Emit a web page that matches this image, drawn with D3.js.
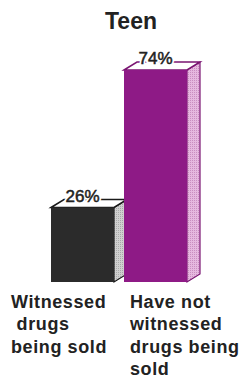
<!DOCTYPE html>
<html>
<head>
<meta charset="utf-8">
<script src="https://cdn.jsdelivr.net/npm/d3@7"></script>
<style>
  body { margin: 0; background: #fff; }
  text { font-family: "Liberation Sans", Arial, sans-serif; }
</style>
</head>
<body>
<div id="chart"></div>
<script>
var title = "Teen";
var categories = ["Witnessed drugs being sold", "Have not witnessed drugs being sold"];
var values = [26, 74];
var catLines = [["Witnessed", " drugs", "being sold"], ["Have not", "witnessed", "drugs being", "sold"]];

var width = 247, height = 378;
var baseY = 282, depthX = 13, depthY = 8;

var svg = d3.select("#chart").append("svg")
    .attr("width", width)
    .attr("height", height);

var x = d3.scaleBand().domain(categories).range([51, 197]).padding(0);
var y = d3.scaleLinear().domain([0, 100]).range([baseY, baseY - 286.5]);

var fronts = ["#2b2b2b", "#8e1a86"];
var sides = ["#cfcfcf", "#e6b8df"];
var strokes = ["#1a1a1a", "#7a1572"];

// textures
var defs = svg.append("defs");
[0, 1].forEach(function(i) {
  var p = defs.append("pattern").attr("id", "dots" + i)
      .attr("width", 2).attr("height", 2).attr("patternUnits", "userSpaceOnUse");
  p.append("rect").attr("width", 2).attr("height", 2).attr("fill", sides[i]);
  p.append("rect").attr("width", 1).attr("height", 1).attr("fill", i ? "#c98ec0" : "#a8a8a8");
});

var bar = svg.selectAll(".bar")
    .data(categories)
    .enter().append("g")
    .attr("class", "bar");

bar.each(function(d, i) {
  var g = d3.select(this);
  var x0 = x(d), w = x.bandwidth() - 10, top = y(values[i]);
  // side
  g.append("path")
      .attr("d", "M" + (x0 + w) + "," + top + "L" + (x0 + w + depthX) + "," + (top - depthY) +
          "L" + (x0 + w + depthX) + "," + (baseY - depthY) + "L" + (x0 + w) + "," + baseY + "Z")
      .attr("fill", "url(#dots" + i + ")")
      .attr("stroke", strokes[i]).attr("stroke-width", 1.2);
  // top
  g.append("path")
      .attr("d", "M" + x0 + "," + top + "L" + (x0 + depthX) + "," + (top - depthY) +
          "L" + (x0 + w + depthX) + "," + (top - depthY) + "L" + (x0 + w) + "," + top + "Z")
      .attr("fill", "#fff")
      .attr("stroke", strokes[i]).attr("stroke-width", 1.5);
  // front
  g.append("rect")
      .attr("x", x0).attr("y", top)
      .attr("width", w).attr("height", baseY - top)
      .attr("fill", fronts[i]);
  // value label: white halo, then text
  g.append("text")
      .attr("x", x0 + w / 2).attr("y", top - 6)
      .attr("text-anchor", "middle").attr("font-size", 17)
      .attr("fill", "#fff").attr("stroke", "#fff").attr("stroke-width", 4)
      .text(values[i] + "%");
  g.append("text")
      .attr("x", x0 + w / 2).attr("y", top - 6)
      .attr("text-anchor", "middle").attr("font-size", 17)
      .attr("fill", "#222").attr("stroke", "#222").attr("stroke-width", 0.5)
      .text(values[i] + "%");
});

svg.append("text")
    .attr("x", 131).attr("y", 29)
    .attr("text-anchor", "middle")
    .attr("font-size", 23).attr("font-weight", "bold")
    .attr("fill", "#222")
    .text(title);

var labelX = [11, 130];
categories.forEach(function(d, i) {
  var t = svg.append("text")
      .attr("x", labelX[i]).attr("y", 308)
      .attr("font-size", 18).attr("font-weight", "bold")
      .attr("letter-spacing", 0.6)
      .attr("fill", "#222")
      .attr("xml:space", "preserve");
  catLines[i].forEach(function(line, k) {
    t.append("tspan").attr("x", labelX[i]).attr("dy", k ? 22.3 : 0).text(line);
  });
});
</script>
</body>
</html>
